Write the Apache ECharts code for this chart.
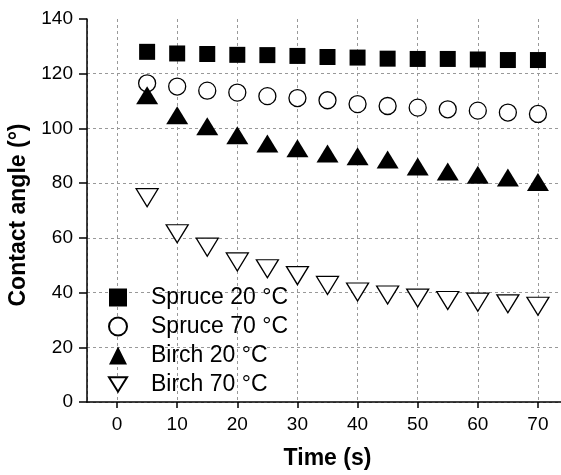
<!DOCTYPE html>
<html>
<head>
<meta charset="utf-8">
<script src="https://cdn.jsdelivr.net/npm/echarts@6/dist/echarts.min.js"></script>
<style>
  html, body { margin: 0; padding: 0; background: #fff; }
  #chart { width: 561px; height: 475px; }
</style>
</head>
<body>
<div id="chart"></div>
<script>
// time points (s)
const times = [5, 10, 15, 20, 25, 30, 35, 40, 45, 50, 55, 60, 65, 70];

// contact angle (°)
const spruce20 = [128.0, 127.4, 127.2, 126.9, 126.8, 126.5, 126.1, 125.9, 125.5, 125.4, 125.4, 125.2, 125.0, 125.0];
const spruce70 = [116.5, 115.3, 113.8, 113.1, 111.8, 111.1, 110.3, 108.9, 108.2, 107.6, 107.0, 106.5, 105.8, 105.3];
const birch20 = [112.1, 104.8, 100.8, 97.5, 94.5, 92.8, 90.8, 89.8, 88.6, 86.1, 84.3, 83.1, 82.1, 80.4];
const birch70 = [74.7, 61.5, 56.6, 51.2, 48.7, 46.2, 42.6, 40.2, 39.1, 38.0, 37.1, 36.5, 35.9, 35.0];

const names = ['Spruce 20 °C', 'Spruce 70 °C', 'Birch 20 °C', 'Birch 70 °C'];

const pairs = (ys) => times.map((t, i) => [t, ys[i]]);

const font = 'Liberation Sans, Arial, sans-serif';
const grid = { type: [3, 3], color: '#999', width: 1 };

const chart = echarts.init(document.getElementById('chart'));
chart.setOption({
  animation: false,
  textStyle: { fontFamily: font },
  // plot runs a little past the right edge of the picture, like the original
  grid: { left: 87, width: 481, top: 19, height: 383, outerBoundsMode: 'none', containLabel: false },
  legend: {
    orient: 'vertical',
    left: 103,
    top: 281,
    itemWidth: 18,
    itemHeight: 18,
    itemGap: 6,
    textStyle: { fontSize: 23, color: '#000', lineHeight: 23, padding: [0, 0, 0, 19] },
    data: names
  },
  xAxis: {
    type: 'value',
    min: -5,
    max: 75,
    splitNumber: 8,
    name: 'Time (s)',
    nameLocation: 'middle',
    nameGap: 45,
    nameTextStyle: { fontSize: 23, fontWeight: 'bold', color: '#000' },
    axisLine: { onZero: false, lineStyle: { color: '#000', width: 1.5 } },
    axisTick: { show: true, length: 6, lineStyle: { color: '#000', width: 1.5 } },
    axisLabel: { fontSize: 19, color: '#000', margin: 13, showMinLabel: false, showMaxLabel: false },
    splitLine: { show: true, lineStyle: grid }
  },
  yAxis: {
    type: 'value',
    min: 0,
    max: 140,
    interval: 20,
    name: 'Contact angle (°)',
    nameLocation: 'middle',
    nameGap: 53,
    nameTextStyle: { fontSize: 23, fontWeight: 'bold', color: '#000', padding: [0, 9, 0, 0] },
    axisLine: { show: true, onZero: false, lineStyle: { color: '#000', width: 1.5 } },
    axisTick: { show: true, length: 8, lineStyle: { color: '#000', width: 1.5 } },
    axisLabel: { fontSize: 19, color: '#000', margin: 14 },
    splitLine: {
      show: true,
      lineStyle: Object.assign({}, grid, {
        color: ['#999', '#999', '#999', '#999', '#999', '#999', '#999', 'rgba(0,0,0,0)']
      })
    }
  },
  series: [
    {
      name: names[0], type: 'scatter', data: pairs(spruce20),
      symbol: 'rect', symbolSize: 16,
      itemStyle: { color: '#000', opacity: 1 }
    },
    {
      name: names[1], type: 'scatter', data: pairs(spruce70),
      symbol: 'circle', symbolSize: 17,
      itemStyle: { color: '#fff', borderColor: '#000', borderWidth: 1.3, opacity: 1 }
    },
    {
      name: names[2], type: 'scatter', data: pairs(birch20),
      symbol: 'triangle', symbolSize: [22, 18],
      itemStyle: { color: '#000', opacity: 1 }
    },
    {
      name: names[3], type: 'scatter', data: pairs(birch70),
      symbol: 'path://M0,0L2,0L1,1.6Z', symbolSize: [22, 18],
      itemStyle: { color: '#fff', borderColor: '#000', borderWidth: 1.3, opacity: 1 }
    }
  ]
});
</script>
</body>
</html>
